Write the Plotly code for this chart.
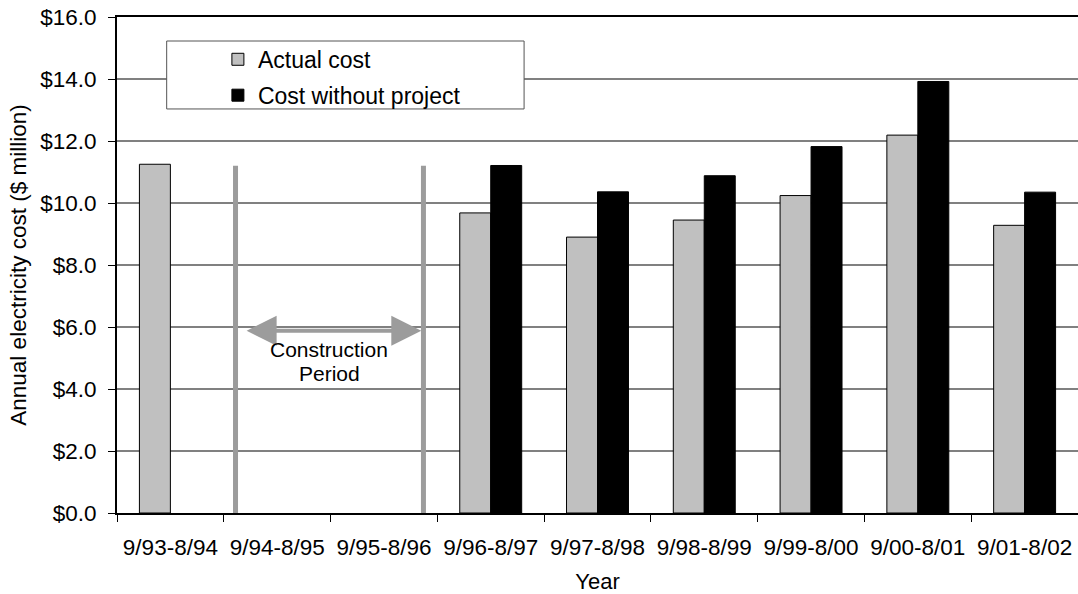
import plotly.graph_objects as go

# Fiscal-year periods (September to August)
years = ["9/93-8/94", "9/94-8/95", "9/95-8/96", "9/96-8/97", "9/97-8/98",
         "9/98-8/99", "9/99-8/00", "9/00-8/01", "9/01-8/02"]

# Annual electricity cost, $ million
actual_cost = [11.25, None, None, 9.68, 8.90, 9.45, 10.24, 12.19, 9.28]
cost_without_project = [None, None, None, 11.21, 10.36, 10.88, 11.82, 13.92, 10.35]

# Construction period markers (category-index positions) and label height
construction_start = 0.61
construction_end = 2.37
marker_top = 11.2
arrow_level = 5.88

FONT = "Liberation Sans, Arial, sans-serif"
GREY_MARK = "#9C9C9C"

fig = go.Figure()
fig.add_trace(go.Bar(
    x=years, y=actual_cost, name="Actual cost", legendgroup="actual",
    marker=dict(color="#C0C0C0", line=dict(color="#000000", width=1)),
))
fig.add_trace(go.Bar(
    x=years, y=cost_without_project, name="Cost without project",
    legendgroup="without",
    marker=dict(color="#000000", line=dict(color="#000000", width=1)),
))

# Vertical markers bounding the construction period
for xpos in (construction_start, construction_end):
    fig.add_shape(type="line", xref="x", yref="y",
                  x0=xpos, x1=xpos, y0=0, y1=marker_top,
                  line=dict(color=GREY_MARK, width=5), layer="above")

# Double-headed arrow spanning the construction period
fig.add_annotation(
    x=construction_end - 0.02, y=arrow_level,
    ax=construction_start + 0.09, ay=arrow_level,
    xref="x", yref="y", axref="x", ayref="y",
    showarrow=True, arrowside="end+start", arrowhead=2,
    arrowsize=1.5, arrowwidth=4, arrowcolor=GREY_MARK, text="",
)
# light core line through the arrow shaft
fig.add_shape(type="line", xref="x", yref="y",
              x0=construction_start + 0.25, x1=construction_end - 0.18,
              y0=arrow_level, y1=arrow_level,
              line=dict(color="#E8E8E8", width=1), layer="above")

label_x = (construction_start + construction_end) / 2
fig.add_annotation(x=label_x, y=5.27, xref="x", yref="y", showarrow=False,
                   text="Construction",
                   font=dict(family=FONT, size=21, color="#000000"))
fig.add_annotation(x=label_x, y=4.50, xref="x", yref="y", showarrow=False,
                   text="Period",
                   font=dict(family=FONT, size=21, color="#000000"))

# Legend frame
fig.add_shape(type="rect", xref="paper", yref="paper",
              x0=0.0517, x1=0.4236, y0=0.8146, y1=0.9516,
              fillcolor="#FFFFFF", line=dict(color="#555555", width=1),
              layer="above")

fig.update_layout(
    width=1078, height=594,
    margin=dict(l=117, r=0, t=17, b=81),
    paper_bgcolor="#FFFFFF", plot_bgcolor="#FFFFFF",
    barmode="group", bargap=0.42, bargroupgap=0,
    font=dict(family=FONT, size=22, color="#000000"),
    showlegend=True,
    legend=dict(
        x=0.105, y=0.958, xanchor="left", yanchor="top",
        bgcolor="rgba(0,0,0,0)", borderwidth=0,
        font=dict(family=FONT, size=23, color="#000000"),
        itemclick=False, tracegroupgap=3, traceorder="grouped",
    ),
    xaxis=dict(
        type="category", tickson="boundaries",
        showline=True, linecolor="#000000", linewidth=2, mirror=True,
        ticks="outside", ticklen=7, tickcolor="#000000", tickwidth=1,
        showgrid=False, ticklabelstandoff=13,
        title=dict(text="Year", standoff=17,
                   font=dict(family=FONT, size=22)),
        tickfont=dict(family=FONT, size=22.5),
    ),
    yaxis=dict(
        range=[0, 16], dtick=2, tickprefix="$", tickformat=".1f",
        showline=True, linecolor="#000000", linewidth=2,
        ticks="outside", ticklen=7, tickcolor="#000000", tickwidth=1,
        showgrid=True, gridcolor="#808080", gridwidth=1.5,
        zeroline=False, ticklabelstandoff=7,
        title=dict(text="Annual electricity cost ($ million)", standoff=7,
                   font=dict(family=FONT, size=22.5)),
        tickfont=dict(family=FONT, size=22.5),
    ),
)

fig.write_html("out.html")
